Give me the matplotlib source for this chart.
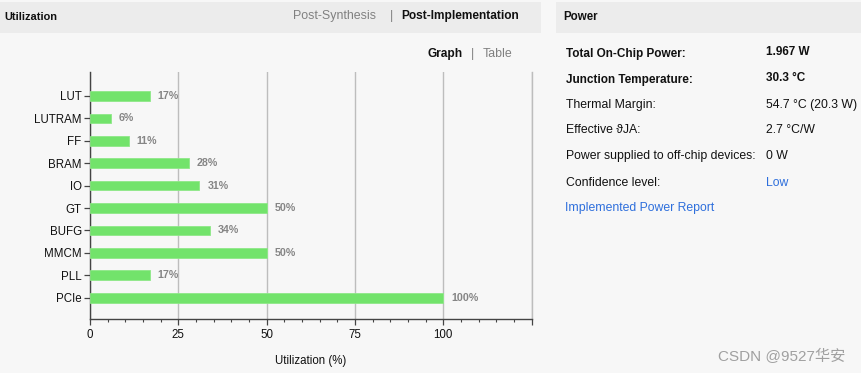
import matplotlib
matplotlib.use("Agg")
import matplotlib.pyplot as plt
from matplotlib.patches import Rectangle
from matplotlib.ticker import MultipleLocator

categories = ["LUT", "LUTRAM", "FF", "BRAM", "IO", "GT", "BUFG", "MMCM", "PLL", "PCIe"]
values = [17, 6, 11, 28, 31, 50, 34, 50, 17, 100]
x_ticks = [0, 25, 50, 75, 100]

power_labels = ["Total On-Chip Power:", "Junction Temperature:", "Thermal Margin:",
                "Effective \u03d1JA:", "Power supplied to off-chip devices:", "Confidence level:"]
power_values = ["1.967 W", "30.3 \u00b0C", "54.7 \u00b0C (20.3 W)", "2.7 \u00b0C/W", "0 W", "Low"]

plt.rcParams['font.family'] = ['Liberation Sans', 'DejaVu Sans']

W, H = 861, 373
fig = plt.figure(figsize=(W / 100, H / 100), dpi=100)
fig.patch.set_facecolor("#f7f7f7")

def fx(x):
    return x / W

def fy(y):
    return 1 - y / H

# header bars
fig.add_artist(Rectangle((fx(0), fy(33)), fx(541), (33 - 2) / H, transform=fig.transFigure,
                         facecolor="#ececec", edgecolor="none", zorder=0))
fig.add_artist(Rectangle((fx(556), fy(33)), fx(861 - 556), (33 - 2) / H, transform=fig.transFigure,
                         facecolor="#ececec", edgecolor="none", zorder=0))

fig.text(fx(4), fy(17), "Utilization", fontsize=7.9, fontweight="bold", color="#111111", va="center")
fig.text(fx(293), fy(16), "Post-Synthesis", fontsize=8.9, color="#808080", va="center")
fig.text(fx(390), fy(16), "|", fontsize=8.9, color="#808080", va="center")
fig.text(fx(401), fy(16), "Post-Implementation", fontsize=8.6, fontweight="bold", color="#111111", va="center")
fig.text(fx(427), fy(54), "Graph", fontsize=8.6, fontweight="bold", color="#111111", va="center")
fig.text(fx(471), fy(54), "|", fontsize=8.9, color="#808080", va="center")
fig.text(fx(483), fy(54), "Table", fontsize=8.9, color="#808080", va="center")

fig.text(fx(563), fy(17), "Power", fontsize=8.3, fontweight="bold", color="#111111", va="center")

fs = 8.8
row_y = [54, 80, 105, 130, 156, 183]
for i, (lab, val, yy) in enumerate(zip(power_labels, power_values, row_y)):
    bold = i < 2
    fig.text(fx(566), fy(yy), lab, fontsize=8.5 if bold else fs, fontweight="bold" if bold else "normal",
             color="#111111", va="center")
    vcol = "#2e6fdc" if val == "Low" else "#111111"
    fig.text(fx(766), fy(yy - 2 if bold else yy), val, fontsize=8.5 if bold else fs,
             fontweight="bold" if bold else "normal", color=vcol, va="center")
fig.text(fx(565), fy(208), "Implemented Power Report", fontsize=fs, color="#2e6fdc", va="center")

fig.text(fx(845), fy(356), "CSDN @9527\u534e\u5b89", fontsize=11, color="#a0a0a0", ha="right", va="center",
         family=["Liberation Sans", "Noto Sans CJK SC", "DejaVu Sans"])

# chart axes
ax = fig.add_axes([fx(90), fy(319), (531.5 - 90) / W, (319 - 72) / H])
ax.set_facecolor("none")
ypos = list(range(len(categories)))
ax.barh(ypos, values, height=0.43, color="#72e36b", edgecolor="#8ee888", linewidth=0.6, zorder=3)
for yv, v in zip(ypos, values):
    ax.text(v + 2.2, yv, f"{v}%", va="center", ha="left", fontsize=7.7,
            fontweight="bold", color="#858585", zorder=4)

ax.set_xlim(0, 125)
ax.set_ylim(len(categories) - 0.05, -1.07)
ax.set_xticks(x_ticks + [125])
ax.set_xticklabels([str(t) for t in x_ticks] + [""])
ax.xaxis.set_minor_locator(MultipleLocator(5))
ax.set_yticks(ypos)
ax.set_yticklabels(categories)
ax.tick_params(axis="both", which="major", labelsize=8.3, colors="#444444", labelcolor="#111111",
               length=4, width=0.9, direction="out", pad=3)
ax.tick_params(axis="y", pad=2)
ax.tick_params(axis="x", which="minor", length=2, width=0.8, colors="#444444")
ax.xaxis.grid(True, color="#bdbdbd", linewidth=1.0, zorder=0)
ax.axvline(125, color="#bdbdbd", linewidth=1.0, zorder=0, clip_on=False)
ax.set_axisbelow(True)
for s in ["top", "right"]:
    ax.spines[s].set_visible(False)
for s in ["left", "bottom"]:
    ax.spines[s].set_color("#444444")
    ax.spines[s].set_linewidth(1.0)
ax.set_xlabel("Utilization (%)", fontsize=8.3, color="#111111", labelpad=10)

fig.savefig("out.png", dpi=100, facecolor=fig.get_facecolor())
